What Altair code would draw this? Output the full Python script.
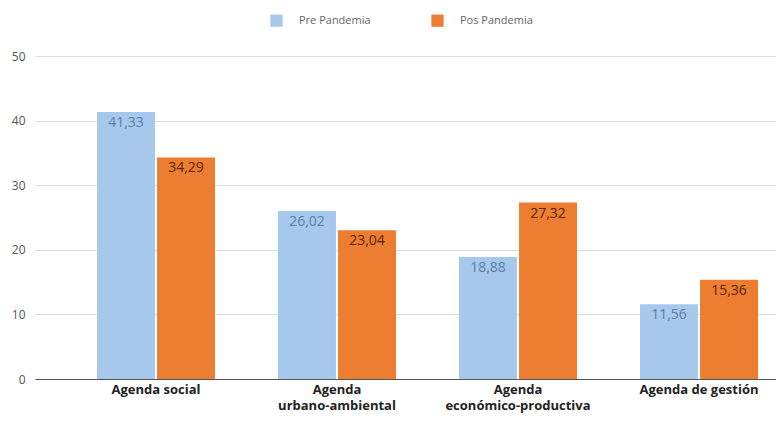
import altair as alt
import pandas as pd

categories = ["Agenda social", "Agenda\nurbano-ambiental",
              "Agenda\necon\u00f3mico-productiva", "Agenda de gesti\u00f3n"]
series = ["Pre Pandemia", "Pos Pandemia"]
pre = [41.33, 26.02, 18.88, 11.56]
pos = [34.29, 23.04, 27.32, 15.36]
bar_colors = ["#a6c8ec", "#ed7d31"]
text_colors = ["#5b7fa6", "#5a2500"]
y_ticks = [0, 10, 20, 30, 40, 50]

rows = []
for c, a, b in zip(categories, pre, pos):
    for s, v, tc in ((series[0], a, text_colors[0]), (series[1], b, text_colors[1])):
        rows.append({"cat": c, "serie": s, "val": v,
                     "lab": f"{v:.2f}".replace(".", ","), "tcol": tc})
df = pd.DataFrame(rows)

x_enc = alt.X("cat:N", sort=categories,
              scale=alt.Scale(paddingInner=0.348, paddingOuter=0.221, align=0.775),
              axis=alt.Axis(title=None, labelAngle=0, labelFontWeight="bold",
                            labelColor="#222", labelFontSize=13, labelFont="Open Sans",
                            labelPadding=4, ticks=False, domainColor="#555",
                            domainWidth=1.2, labelLineHeight=16,
                            labelExpr="split(datum.label, '\\n')"))
xo_enc = alt.XOffset("serie:N", sort=series, scale=alt.Scale(paddingInner=0.035))
y_enc = alt.Y("val:Q", scale=alt.Scale(domain=[0, 50]),
              axis=alt.Axis(title=None, values=y_ticks, grid=True, gridColor="#dcdcdc",
                            domain=False, ticks=False, labelColor="#555",
                            labelFontSize=12, labelFont="Open Sans", labelPadding=10))

bars = alt.Chart(df).mark_bar().encode(
    x=x_enc, xOffset=xo_enc, y=y_enc,
    color=alt.Color("serie:N", sort=series,
                    scale=alt.Scale(domain=series, range=bar_colors),
                    legend=alt.Legend(title=None, orient="none", legendX=235, legendY=-42,
                                      direction="horizontal", symbolType="square",
                                      symbolSize=150, symbolStrokeWidth=0,
                                      labelFontSize=11, labelColor="#666",
                                      labelFont="Open Sans", labelOffset=16,
                                      columnPadding=60)),
)

texts = alt.Chart(df).mark_text(baseline="top", dy=4, fontSize=14, font="Open Sans").encode(
    x=x_enc, xOffset=xo_enc, y=y_enc, text="lab:N",
    color=alt.Color("tcol:N", scale=None),
)

chart = alt.layer(bars, texts).resolve_scale(color="independent").properties(
    width=741, height=323,
    autosize=alt.AutoSizeParams(type="none"),
    padding={"left": 27, "top": 48, "right": 0, "bottom": 40},
).configure_view(stroke=None)

chart.save("out.html", embed_options={"renderer": "svg", "actions": False})
